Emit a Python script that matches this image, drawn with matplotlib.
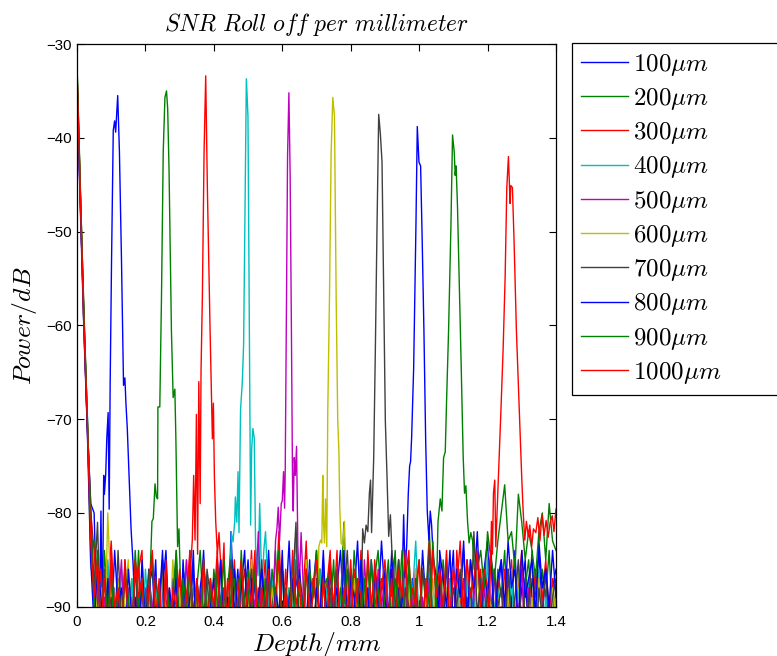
import numpy as np
import matplotlib
matplotlib.use('Agg')
import matplotlib.pyplot as plt
from matplotlib.ticker import FormatStrFormatter

plt.rcParams['mathtext.fontset'] = 'cm'
plt.rcParams['font.family'] = ['Liberation Sans', 'DejaVu Sans']

labels = [r'$100\mu m$', r'$200\mu m$', r'$300\mu m$', r'$400\mu m$', r'$500\mu m$',
          r'$600\mu m$', r'$700\mu m$', r'$800\mu m$', r'$900\mu m$', r'$1000\mu m$']
colors = ['#0000ff', '#008000', '#ff0000', '#00bfbf', '#bf00bf',
          '#bfbf00', '#404040', '#0000ff', '#008000', '#ff0000']

# noise floor, one sample every 0.01 mm from 0 to 1.40 (first 5 = decay near zero depth)
floor_100 = [-34.5, -47, -60, -70.5, -79,
    -80, -93, -85, -79, -91, -86, -95, -88, -81, -92, -87, -96, -85, -90, -88, -94, -86,
    -91, -85, -97, -88, -84, -93, -87, -90, -95, -86, -89, -92, -84, -96, -88, -85, -91,
    -87, -94, -85, -90, -88, -96, -82, -91, -86, -93, -89, -85, -92, -87, -95, -86, -90,
    -84, -92, -88, -95, -86, -90, -83, -93, -87, -89, -96, -85, -91, -88, -84, -94, -87,
    -90, -85, -93, -88, -84, -91, -96, -86, -89, -83, -92, -87, -95, -85, -90, -88, -94,
    -86, -91, -84, -93, -88, -90, -85, -97, -87, -89, -92, -84, -90, -86, -94, -88, -85,
    -92, -86, -89, -84, -95, -87, -90, -85, -93, -88, -84, -91, -86, -83, -92, -87, -89,
    -85, -93, -86, -90, -84, -92, -88, -85, -95, -87, -89, -84, -91, -86, -93, -88, -86]
floor_200 = [-32, -45.5, -59, -69.5, -83,
    -83, -88, -95, -84, -90, -86, -93, -89, -96, -85, -91, -87, -92, -84, -97, -88, -90,
    -86, -94, -88, -85, -92, -87, -96, -84, -90, -89, -93, -86, -95, -88, -84, -91, -87,
    -93, -86, -90, -85, -96, -88, -84, -92, -87, -94, -89, -86, -91, -85, -93, -88, -95,
    -87, -90, -84, -93, -86, -91, -88, -95, -85, -89, -92, -84, -96, -87, -90, -86, -93,
    -88, -85, -94, -87, -90, -81, -92, -89, -86, -95, -88, -91, -85, -93, -87, -84, -90,
    -92, -86, -89, -84, -94, -88, -91, -85, -90, -87, -96, -86, -89, -82, -92, -88, -93,
    -85, -90, -87, -94, -86, -89, -84, -92, -88, -95, -85, -91, -87, -90, -84, -93, -86,
    -89, -84, -92, -87, -90, -86, -95, -88, -85, -91, -87, -94, -86, -89, -84, -92, -88]
floor_300 = [-32.7, -46, -58.5, -70, -80,
    -84, -90, -86, -94, -88, -83, -92, -87, -95, -85, -90, -89, -93, -86, -84, -96, -88,
    -91, -87, -93, -85, -90, -88, -95, -84, -92, -86, -89, -94, -87, -83, -91, -88, -96,
    -86, -92, -88, -84, -95, -87, -90, -85, -93, -89, -86, -91, -84, -94, -88, -90, -85,
    -93, -87, -90, -82, -92, -86, -96, -88, -85, -91, -89, -83, -94, -87, -90, -86, -92,
    -88, -84, -95, -87, -91, -85, -89, -93, -86, -90, -84, -92, -88, -96, -85, -89, -87,
    -90, -94, -86, -89, -85, -92, -87, -84, -95, -88, -91, -86, -90, -83, -93, -87, -89,
    -86, -91, -88, -95, -84, -90, -87, -93, -85, -89, -92, -86, -94, -88, -84, -91, -87,
    -93, -86, -90, -85, -92, -88, -84, -95, -87, -90, -86, -93, -89, -85, -91, -87, -94]
floor_400 = [-34, -47, -60, -69, -84,
    -87, -93, -89, -96, -85, -91, -88, -94, -86, -90, -97, -87, -92, -89, -95, -86, -91,
    -94, -88, -91, -86, -96, -89, -92, -87, -95, -90, -85, -93, -88, -91, -97, -86, -90,
    -89, -95, -86, -92, -88, -94, -90, -85, -93, -87, -96, -89, -91, -86, -94, -88, -92,
    -96, -87, -90, -93, -86, -95, -88, -91, -82, -94, -89, -92, -87, -97, -90, -86, -93,
    -88, -92, -95, -87, -90, -86, -94, -89, -91, -96, -85, -93, -88, -90, -95, -87, -92,
    -90, -86, -93, -88, -96, -91, -87, -94, -89, -83, -92, -90, -95, -86, -91, -88, -97,
    -91, -95, -87, -92, -88, -90, -96, -86, -93, -89, -94, -87, -91, -85, -95, -90, -88,
    -94, -89, -92, -86, -95, -88, -91, -97, -87, -93, -90, -86, -94, -89, -92, -96, -88]
floor_500 = [-35, -48, -60.5, -71, -82,
    -91, -86, -94, -89, -97, -87, -92, -90, -85, -95, -88, -93, -86, -91, -96, -89, -87,
    -90, -95, -88, -92, -86, -94, -89, -96, -87, -91, -85, -93, -90, -88, -95, -86, -92,
    -88, -93, -90, -85, -96, -89, -92, -87, -94, -86, -91, -95, -88, -90, -82, -93, -89,
    -92, -87, -95, -90, -86, -93, -88, -91, -97, -85, -90, -94, -87, -92, -89, -96, -86,
    -94, -89, -91, -86, -93, -90, -96, -87, -92, -88, -95, -85, -91, -89, -94, -86, -90,
    -87, -93, -89, -96, -85, -91, -88, -94, -90, -86, -97, -89, -92, -87, -95, -90, -88,
    -95, -88, -92, -86, -90, -94, -87, -91, -96, -89, -85, -93, -88, -92, -90, -86, -94,
    -90, -96, -87, -93, -89, -91, -86, -95, -88, -92, -94, -87, -90, -97, -89, -93, -91]
floor_600 = [-33.5, -47, -59.5, -70, -86,
    -86, -92, -88, -95, -80, -90, -97, -87, -93, -89, -85, -94, -90, -96, -88, -91, -87,
    -93, -89, -96, -86, -91, -94, -85, -90, -88, -95, -92, -87, -97, -89, -93, -86, -91,
    -90, -95, -87, -92, -89, -96, -86, -93, -90, -88, -94, -91, -85, -95, -89, -92, -87,
    -94, -88, -91, -86, -95, -90, -93, -87, -96, -89, -92, -85, -90, -94, -88, -97, -91,
    -89, -93, -86, -92, -88, -95, -90, -94, -87, -91, -96, -88, -93, -90, -86, -95, -92,
    -91, -96, -89, -93, -87, -90, -94, -88, -95, -86, -92, -97, -89, -91, -87, -94, -90,
    -95, -88, -92, -90, -96, -87, -93, -89, -91, -94, -86, -92, -97, -88, -90, -95, -89,
    -92, -97, -88, -94, -90, -86, -95, -91, -93, -89, -96, -87, -92, -90, -94, -88, -91]
floor_700 = [-33, -46.5, -60, -70.5, -79,
    -88, -81, -94, -86, -91, -89, -95, -84, -92, -87, -90, -96, -85, -93, -88, -91, -86,
    -94, -87, -90, -85, -96, -89, -92, -86, -93, -88, -95, -84, -91, -87, -90, -94, -86,
    -89, -93, -86, -91, -88, -95, -85, -92, -90, -87, -94, -89, -86, -93, -91, -85, -96,
    -87, -92, -89, -95, -86, -90, -93, -88, -81, -94, -91, -86, -89, -96, -87, -92, -85,
    -93, -88, -91, -86, -95, -89, -84, -92, -90, -87, -94, -88, -91, -85, -96, -89, -92,
    -86, -93, -89, -91, -85, -94, -88, -90, -96, -87, -92, -86, -89, -84, -93, -90, -87,
    -91, -85, -94, -88, -90, -86, -95, -89, -92, -82, -91, -87, -93, -88, -96, -86, -90,
    -88, -94, -86, -92, -89, -85, -93, -87, -90, -84, -95, -88, -91, -86, -92, -89, -87]
floor_800 = [-34, -47.5, -59, -71, -85,
    -92, -85, -89, -96, -87, -93, -84, -90, -88, -95, -86, -91, -89, -94, -85, -92, -88,
    -86, -93, -90, -84, -95, -88, -91, -87, -96, -85, -92, -89, -86, -94, -90, -84, -93,
    -90, -87, -94, -85, -92, -89, -96, -86, -91, -88, -84, -95, -87, -93, -89, -86, -91,
    -85, -94, -88, -91, -84, -96, -89, -87, -93, -86, -90, -92, -85, -95, -88, -91, -84,
    -93, -86, -90, -88, -95, -84, -92, -87, -89, -94, -85, -91, -88, -96, -86, -90, -83,
    -89, -92, -86, -95, -88, -90, -84, -93, -87, -91, -85, -94, -88, -90, -86, -92, -84,
    -87, -90, -84, -93, -86, -89, -83, -92, -85, -88, -82, -91, -86, -89, -84, -93, -87,
    -85, -90, -83, -88, -86, -92, -84, -89, -87, -85, -91, -83, -88, -86, -90, -84, -89]
floor_900 = [-32.3, -46, -58, -69.5, -81,
    -90, -84, -93, -87, -91, -85, -96, -88, -92, -86, -89, -95, -84, -90, -87, -93, -88,
    -85, -92, -88, -95, -86, -91, -89, -84, -94, -87, -90, -86, -93, -88, -96, -85, -91,
    -88, -94, -86, -90, -85, -93, -89, -87, -95, -84, -91, -88, -92, -86, -90, -94, -87,
    -92, -86, -89, -84, -95, -88, -91, -85, -93, -87, -90, -96, -86, -89, -84, -92, -88,
    -87, -91, -85, -94, -88, -90, -86, -93, -84, -89, -92, -87, -95, -85, -90, -88, -93,
    -89, -85, -92, -87, -90, -84, -94, -86, -91, -88, -85, -93, -87, -90, -83, -88, -86,
    -84, -88, -82, -86, -84, -89, -83, -87, -85, -81, -86, -84, -88, -82, -85, -87, -83,
    -80, -77, -83, -82, -86, -78, -81, -85, -82, -84, -87, -82, -80, -85, -79, -83, -84]
floor_1000 = [-33, -46.5, -59.5, -70, -83,
    -89, -85, -92, -87, -95, -84, -90, -88, -93, -86, -91, -96, -85, -89, -87, -94, -88,
    -84, -91, -87, -93, -85, -96, -88, -90, -86, -92, -89, -84, -95, -87, -91, -85, -93,
    -87, -90, -84, -94, -88, -91, -86, -95, -89, -85, -92, -87, -90, -84, -96, -88, -91,
    -86, -93, -89, -85, -92, -88, -95, -84, -90, -87, -94, -86, -91, -89, -85, -93, -87,
    -92, -86, -90, -84, -96, -88, -91, -85, -93, -87, -89, -95, -84, -90, -86, -92, -88,
    -85, -91, -87, -94, -86, -89, -84, -93, -88, -90, -85, -92, -87, -95, -84, -89, -86,
    -90, -84, -92, -86, -88, -83, -91, -85, -89, -87, -84, -90, -86, -88, -82, -85, -87,
    -84, -82, -86, -81, -85, -83, -82, -84, -81, -83, -82, -80, -84, -81, -83, -82, -80]

# main lobes (depth in mm, power in dB)
peak_x_100 = [0.066, 0.070, 0.074, 0.078, 0.080, 0.084, 0.087, 0.091, 0.094, 0.097, 0.101, 0.106,
              0.110, 0.113, 0.119, 0.124, 0.130, 0.136, 0.140, 0.143, 0.147, 0.152, 0.158, 0.164, 0.170]
peak_db_100 = [-90.5, -79.8, -92, -76, -78, -75.8, -72.1, -69.3, -79.6, -66, -53, -39.2,
               -38.2, -39.4, -35.5, -41.5, -53, -66.4, -65.6, -68.3, -71, -76, -81.7, -85.5, -91]
peak_x_200 = [0.208, 0.213, 0.219, 0.223, 0.228, 0.232, 0.2355, 0.2365, 0.242, 0.247, 0.252, 0.257,
              0.2616, 0.265, 0.269, 0.276, 0.281, 0.286, 0.289, 0.294, 0.298, 0.303, 0.308]
peak_db_200 = [-91, -87.5, -80.9, -80.6, -76.9, -78.3, -78.5, -68.7, -68.7, -56.8, -41.5, -35.7,
               -35.0, -36.9, -43.4, -60.6, -67.7, -66.8, -72.1, -83.6, -81.7, -88.2, -92]
peak_x_300 = [0.328, 0.3325, 0.337, 0.341, 0.345, 0.349, 0.3525, 0.356, 0.360, 0.3625, 0.3665, 0.3714,
              0.3762, 0.381, 0.389, 0.3957, 0.3986, 0.4015, 0.4054, 0.4103, 0.415, 0.420, 0.4245, 0.4296, 0.434]
peak_db_300 = [-92, -85.5, -82.9, -76, -82.9, -69.5, -84.4, -66, -79, -64.9, -56.8, -41.5,
               -33.4, -45.3, -60.6, -72.1, -68.3, -76, -80.9, -84.4, -82.1, -85.5, -87, -83.2, -91]
peak_x_400 = [0.447, 0.451, 0.456, 0.461, 0.4628, 0.467, 0.4706, 0.4735, 0.478, 0.4832, 0.487, 0.491,
              0.495, 0.4997, 0.5046, 0.5075, 0.5105, 0.514, 0.518, 0.522, 0.529, 0.534, 0.5405, 0.546,
              0.551, 0.555, 0.560]
peak_db_400 = [-91, -82.1, -83.1, -80.9, -78.3, -81, -75.6, -82.1, -69, -66, -62, -48,
               -33.7, -37.7, -64.5, -81.3, -73.2, -71, -72, -83.6, -86.7, -79, -88.6, -84,
               -82, -85.5, -91]
peak_x_500 = [0.570, 0.5746, 0.5804, 0.5843, 0.5882, 0.592, 0.597, 0.600, 0.6037, 0.6067, 0.6086, 0.612,
              0.6154, 0.6193, 0.623, 0.627, 0.630, 0.632, 0.635, 0.638, 0.6417, 0.6455, 0.650, 0.655,
              0.660, 0.665]
peak_db_500 = [-93, -89, -82.9, -81.7, -79.4, -83, -79, -78.7, -75.6, -79.5, -75.5, -58,
               -42, -35.2, -44, -62, -77, -79.8, -74.1, -76, -72.9, -83.6, -87.5, -82.1,
               -86.7, -92]
peak_x_600 = [0.703, 0.7068, 0.7117, 0.7155, 0.7184, 0.7204, 0.7233, 0.7263, 0.730, 0.733, 0.738, 0.7428,
              0.7476, 0.7525, 0.7574, 0.762, 0.7655, 0.768, 0.772, 0.7768, 0.7817, 0.7846, 0.7914, 0.796]
peak_db_600 = [-92, -83.6, -82.9, -83.2, -76, -80.9, -83.2, -78.5, -83.6, -69, -56.8, -41.5,
               -35.7, -37.7, -56.8, -70, -73.5, -79.4, -83.2, -83.5, -80.9, -85.5, -87.1, -92]
peak_x_700 = [0.830, 0.835, 0.840, 0.845, 0.850, 0.8546, 0.858, 0.861, 0.8672, 0.872, 0.877,
              0.8818, 0.8867, 0.8915, 0.8964, 0.9012, 0.906, 0.911, 0.916, 0.9207, 0.9256, 0.931]
peak_db_700 = [-91, -81.7, -83.2, -81.3, -82, -77.9, -76.5, -82.1, -74.1, -62.6, -49.2,
               -37.5, -39.6, -42.6, -56.8, -70.2, -76, -82.5, -80.2, -84.4, -85.5, -91]
peak_x_800 = [0.948, 0.9518, 0.9547, 0.9587, 0.9635, 0.9683, 0.9722, 0.975, 0.978, 0.984, 0.9907,
              0.9946, 0.9995, 1.0043, 1.009, 1.014, 1.019, 1.0237, 1.0286, 1.0325, 1.0364, 1.0413,
              1.046, 1.052, 1.058]
peak_db_800 = [-92, -84.8, -80.2, -86.3, -83.6, -77.9, -75, -74.5, -72, -64.5, -49.2,
               -38.8, -42.6, -43, -51.1, -60.6, -72.1, -79.8, -82.9, -79.8, -81.3, -84.8,
               -85.9, -87.5, -92]
peak_x_900 = [1.050, 1.055, 1.0617, 1.0666, 1.0714, 1.0763, 1.080, 1.086, 1.093, 1.0976, 1.1025, 1.1054,
              1.108, 1.112, 1.117, 1.123, 1.1288, 1.1327, 1.1366, 1.1415, 1.146, 1.151, 1.156, 1.161]
peak_db_900 = [-90, -81, -78.5, -79.8, -74.1, -73.5, -68.3, -60.6, -49.2, -39.7, -41.5, -44,
               -43, -47.2, -54.9, -64.5, -74.1, -77.9, -77.1, -80.9, -83.2, -82.1, -82.9, -86]
peak_x_1000 = [1.205, 1.2114, 1.2143, 1.2172, 1.221, 1.224, 1.2289, 1.2338, 1.2386, 1.2454, 1.2513,
               1.2562, 1.261, 1.2658, 1.2678, 1.2726, 1.2775, 1.2843, 1.292, 1.298, 1.300, 1.304,
               1.3087, 1.3135, 1.319, 1.3233, 1.329, 1.334, 1.341, 1.347, 1.353, 1.359, 1.365,
               1.371, 1.377, 1.383, 1.389, 1.394, 1.400]
peak_db_1000 = [-91, -80.9, -84.4, -77.9, -76.5, -83.6, -78.7, -74.1, -69.5, -62.6, -54.9,
                -45.3, -42, -47, -45.1, -45.3, -51.1, -60.6, -68.3, -74.4, -76.4, -79.8,
                -82.9, -80.9, -82.5, -81.3, -83.6, -81.7, -82.1, -80.5, -83, -80.2, -82.4,
                -80.8, -82.6, -81, -80.3, -82, -79.6]

floors = [floor_100, floor_200, floor_300, floor_400, floor_500,
          floor_600, floor_700, floor_800, floor_900, floor_1000]
peaks_x = [peak_x_100, peak_x_200, peak_x_300, peak_x_400, peak_x_500,
           peak_x_600, peak_x_700, peak_x_800, peak_x_900, peak_x_1000]
peaks_db = [peak_db_100, peak_db_200, peak_db_300, peak_db_400, peak_db_500,
            peak_db_600, peak_db_700, peak_db_800, peak_db_900, peak_db_1000]


def build(floor, px, pdb):
    d = np.round(np.arange(len(floor)) * 0.01, 2)
    f = np.array(floor, dtype=float)
    keep = (d < px[0]) | (d > px[-1])
    x = np.concatenate([d[keep], px])
    y = np.concatenate([f[keep], pdb])
    o = np.argsort(x, kind='stable')
    return x[o], y[o]


fig = plt.figure(figsize=(7.77, 6.56), dpi=100)
ax = fig.add_axes([77 / 777, (656 - 606.7) / 656, 479 / 777, 562.7 / 656])

for i in range(len(labels)):
    x, y = build(floors[i], peaks_x[i], peaks_db[i])
    ax.plot(x, y, color=colors[i], linewidth=1.0, label=labels[i])

ax.set_xlim(0, 1.4)
ax.set_ylim(-90, -30)
ax.set_xticks(np.arange(0, 1.41, 0.2))
ax.set_yticks(np.arange(-90, -29, 10))
ax.xaxis.set_major_formatter(FormatStrFormatter('%g'))
ax.tick_params(direction='in', top=True, right=True, length=5, width=0.8, labelsize=10.8)
ax.tick_params(axis='x', pad=6)
ax.tick_params(axis='y', pad=4)
for s in ax.spines.values():
    s.set_linewidth(0.9)

ax.set_title(r'$SNR\ Roll\ off\ per\ millimeter$', fontsize=17, pad=9)
ax.set_xlabel(r'$Depth/mm$', fontsize=18.5, labelpad=1)
ax.set_ylabel(r'$Power/dB$', fontsize=18.5, labelpad=5)

leg = ax.legend(loc='upper left', bbox_to_anchor=(1.033, 0, 0.5, 1.002), mode='expand',
                borderaxespad=0, fontsize=18, handlelength=1.9, handletextpad=0.2,
                labelspacing=0.33, borderpad=0.35, fancybox=False, framealpha=1,
                edgecolor='black')
leg.get_frame().set_linewidth(0.9)

fig.savefig('out.png', dpi=100)
